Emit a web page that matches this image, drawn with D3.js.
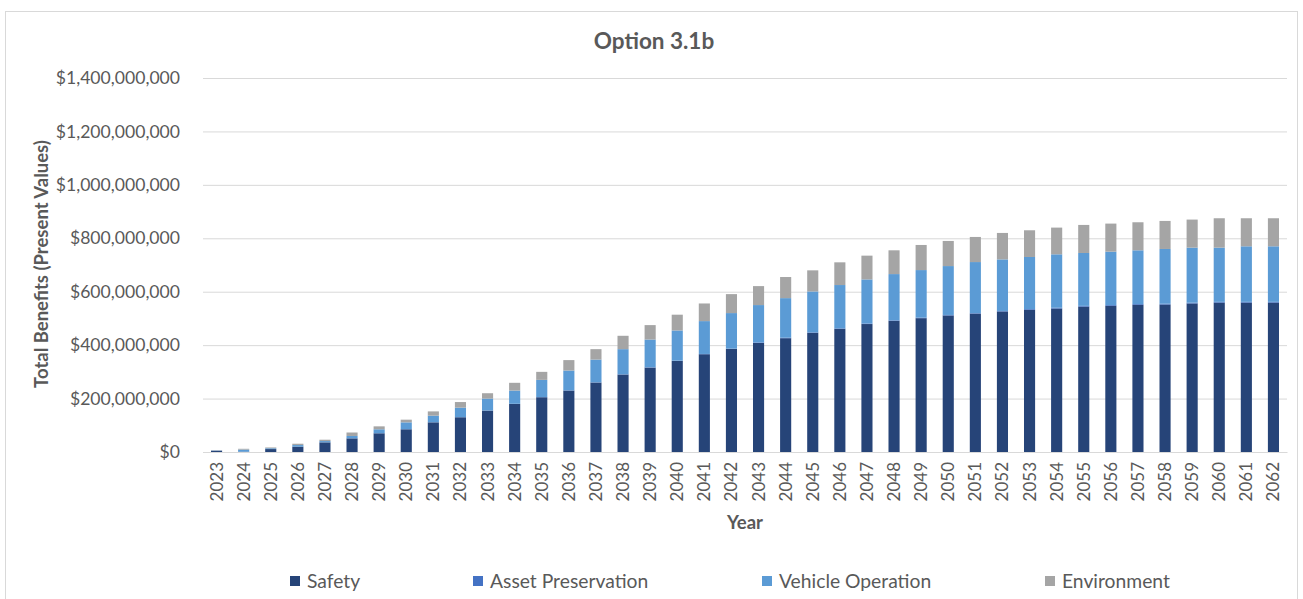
<!DOCTYPE html>
<html>
<head>
<meta charset="utf-8">
<script src="https://cdn.jsdelivr.net/npm/d3@7"></script>
<style>
  html, body { margin: 0; padding: 0; background: #fff; }
  svg { display: block; font-family: Lato, "Open Sans", sans-serif; }
</style>
</head>
<body>
<svg id="chart" width="1303" height="599"></svg>
<script>
// ---- Data (values in millions of dollars) ----
const UNIT = 1e6;
const years = d3.range(2023, 2063).map(String);
const seriesNames = ["Safety", "Asset Preservation", "Vehicle Operation", "Environment"];
const safety = [5, 1, 11, 20, 36, 51, 70, 85, 111, 130,
  155, 180, 205, 230, 260, 290, 316, 341, 366, 386,
  408, 426, 446, 461, 479, 491, 501, 511, 518, 526,
  532, 537, 544, 547, 551, 552, 556, 559, 559, 559];
const assetPreservation = [0, 0, 0, 0, 0.5, 0.5, 0.5, 0.5, 0.5, 0.5,
  0.5, 0.5, 0.5, 1, 1, 1, 1, 1, 1, 1,
  2, 2, 2, 2, 2, 2, 2, 2, 2, 2,
  3, 3, 3, 3, 3, 3, 3, 3, 3, 3];
const vehicleOperation = [0.5, 8, 3, 6, 4.5, 8.5, 14.5, 25.5, 24.5, 35.5,
  44.5, 49.5, 64.5, 74, 85, 94, 104, 113, 123, 133,
  140, 148, 153, 162, 165, 173, 178, 183, 191, 193,
  195, 200, 198, 200, 201, 205, 206, 203, 208, 208];
const environment = [0.5, 3, 3, 5, 5, 13, 11, 10, 16, 21,
  20, 29, 30, 39, 39, 50, 54, 59, 66, 71,
  71, 79, 79, 85, 89, 89, 94, 94, 94, 99,
  100, 100, 105, 105, 105, 105, 105, 110, 105, 105];
const yTicks = [0, 200, 400, 600, 800, 1000, 1200, 1400];
const colors = ["#264478", "#4472C4", "#5B9BD5", "#A5A5A5"];

const rows = years.map((yr, i) => ({
  year: yr,
  "Safety": safety[i] * UNIT,
  "Asset Preservation": assetPreservation[i] * UNIT,
  "Vehicle Operation": vehicleOperation[i] * UNIT,
  "Environment": environment[i] * UNIT
}));

const svg = d3.select("#chart");
const plot = { left: 203, right: 1287, top: 78, bottom: 452 };
const textColor = "#595959";

// Chart border
svg.append("rect")
  .attr("x", 5.5).attr("y", 11.5)
  .attr("width", 1292).attr("height", 620)
  .attr("fill", "#fff").attr("stroke", "#d9d9d9").attr("stroke-width", 1);

const x = d3.scaleBand().domain(years).range([plot.left, plot.right]).paddingInner(0.59).paddingOuter(0.295);
const y = d3.scaleLinear().domain([0, 1400 * UNIT]).range([plot.bottom, plot.top]);

// Gridlines
svg.append("g")
  .attr("transform", `translate(${plot.left},0)`)
  .call(d3.axisLeft(y).tickValues(yTicks.map(v => v * UNIT)).tickSize(-(plot.right - plot.left)).tickFormat(""))
  .call(g => g.select(".domain").remove())
  .call(g => g.selectAll("line").attr("stroke", "#d9d9d9").attr("stroke-width", 1));

// Y axis labels
svg.append("g")
  .attr("transform", `translate(${plot.left},0)`)
  .call(d3.axisLeft(y).tickValues(yTicks.map(v => v * UNIT)).tickSize(0).tickPadding(23)
    .tickFormat(v => "$" + d3.format(",")(v)))
  .call(g => g.select(".domain").remove())
  .call(g => g.selectAll("text").attr("fill", textColor).style("font-size", "17.6px").style("font-family", "Lato, sans-serif"));

// Stacked bars
const stack = d3.stack().keys(seriesNames);
const stacked = stack(rows);
svg.append("g").selectAll("g")
  .data(stacked)
  .join("g")
  .attr("fill", (d, i) => colors[i])
  .selectAll("rect")
  .data(d => d)
  .join("rect")
  .attr("x", d => x(d.data.year))
  .attr("width", x.bandwidth())
  .attr("y", d => y(d[1]))
  .attr("height", d => Math.max(0, y(d[0]) - y(d[1])));

// X axis
svg.append("g")
  .attr("transform", `translate(0,${plot.bottom})`)
  .call(d3.axisBottom(x).tickSize(0).tickPadding(0))
  .call(g => g.select(".domain").attr("stroke", "#d9d9d9"))
  .call(g => g.selectAll("text")
    .attr("fill", textColor)
    .style("font-size", "17px").style("font-family", "Lato, sans-serif")
    .attr("transform", "rotate(-90)")
    .attr("x", -10).attr("y", 0).attr("dy", "0.35em")
    .style("text-anchor", "end"));

// Title
svg.append("text")
  .attr("x", 654).attr("y", 49)
  .attr("text-anchor", "middle")
  .attr("fill", textColor)
  .style("font-size", "22.5px").style("font-weight", "bold")
  .text("Option 3.1b");

// Y axis title
svg.append("text")
  .attr("transform", `translate(48,${(128 + 400) / 2}) rotate(-90)`)
  .attr("text-anchor", "middle")
  .attr("fill", textColor)
  .style("font-size", "18.5px").style("font-weight", "bold")
  .text("Total Benefits (Present Values)");

// X axis title
svg.append("text")
  .attr("x", 745).attr("y", 529)
  .attr("text-anchor", "middle")
  .attr("fill", textColor)
  .style("font-size", "18.5px").style("font-weight", "bold")
  .text("Year");

// Legend
const legendX = [290, 473, 762, 1045];
const legend = svg.append("g").selectAll("g")
  .data(seriesNames)
  .join("g")
  .attr("transform", (d, i) => `translate(${legendX[i]},581)`);
legend.append("rect")
  .attr("x", 0).attr("y", -5).attr("width", 10).attr("height", 10)
  .attr("fill", (d, i) => colors[i]);
legend.append("text")
  .attr("x", 17).attr("y", 0).attr("dy", "0.35em")
  .attr("fill", textColor)
  .style("font-size", "19.3px")
  .text(d => d);
</script>
</body>
</html>
